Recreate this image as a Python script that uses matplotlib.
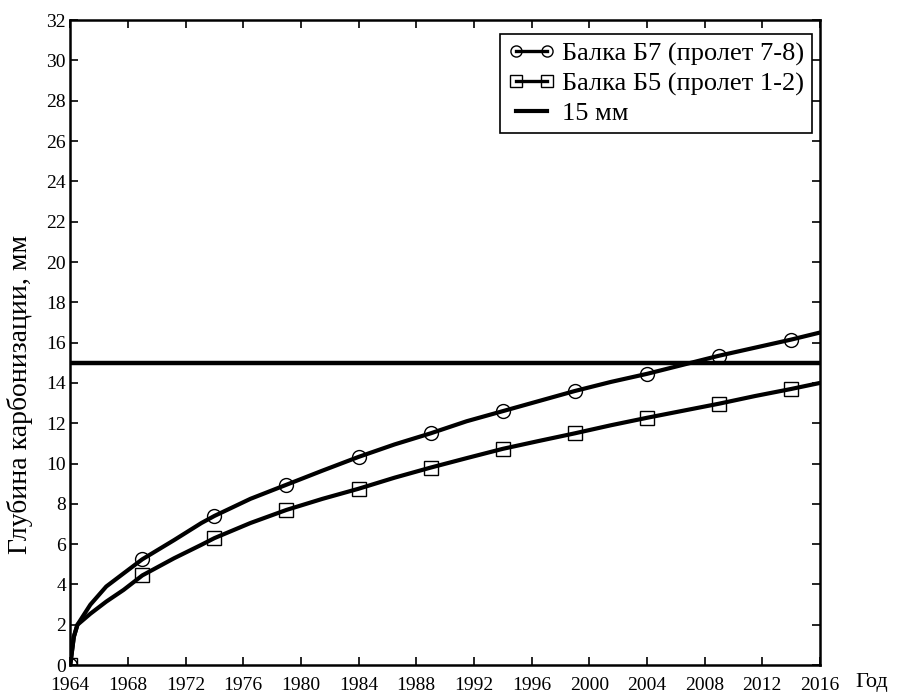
import numpy as np
import matplotlib.pyplot as plt
from matplotlib.lines import Line2D

plt.rcParams['font.family'] = ['Liberation Serif', 'DejaVu Serif']

# Curve points
years = [1964, 1964.25, 1964.5, 1965.4, 1966.5, 1967.7, 1969, 1971.2, 1973.1, 1974,
         1976.5, 1979, 1981.5, 1984, 1986.5, 1989, 1991.5, 1994, 1996.5, 1999,
         2001.5, 2004, 2006.5, 2009, 2011.5, 2014, 2016]
b7 = [0.0, 1.4, 2.0, 3.0, 3.9, 4.55, 5.25, 6.2, 7.05, 7.4,
      8.25, 8.95, 9.65, 10.33, 10.95, 11.5, 12.1, 12.6, 13.1, 13.6,
      14.05, 14.45, 14.9, 15.35, 15.75, 16.15, 16.5]
b5 = [0.0, 1.4, 2.0, 2.55, 3.15, 3.73, 4.45, 5.3, 5.97, 6.3,
      7.05, 7.7, 8.25, 8.75, 9.3, 9.8, 10.27, 10.73, 11.12, 11.5,
      11.9, 12.27, 12.62, 12.97, 13.35, 13.7, 14.0]

# Marker positions
mark_years = [1964, 1969, 1974, 1979, 1984, 1989, 1994, 1999, 2004, 2009, 2014]
b7_marks = [0.0, 5.27, 7.4, 8.95, 10.33, 11.5, 12.6, 13.6, 14.45, 15.35, 16.15]
b5_marks = [0.0, 4.47, 6.3, 7.7, 8.75, 9.8, 10.73, 11.5, 12.27, 12.97, 13.7]

limit = 15

fig = plt.figure(figsize=(9, 6.95), dpi=100)
ax = fig.add_axes([0.078, 0.043, 0.833, 0.928])

ax.plot(years, b7, color='black', lw=3)
ax.plot(years, b5, color='black', lw=3)
ax.plot(mark_years, b7_marks, ls='none', marker='o', ms=10, mfc='none', mec='black', mew=1.0)
ax.plot(mark_years, b5_marks, ls='none', marker='s', ms=10, mfc='none', mec='black', mew=1.0)
ax.axhline(limit, color='black', lw=3.2)

ax.set_xlim(1964, 2016)
ax.set_ylim(0, 32)
ax.set_xticks(np.arange(1964, 2017, 4))
ax.set_yticks(np.arange(0, 33, 2))
ax.tick_params(direction='in', top=True, right=True, length=6, width=1.2, labelsize=14, pad=3)
ax.tick_params(axis='x', pad=8.5)
for s in ax.spines.values():
    s.set_linewidth(1.8)

ax.set_ylabel('Глубина карбонизации, мм', fontsize=20)
ax.yaxis.set_label_coords(-0.05, 0.42)
ax.text(1.047, -0.027, 'Год', transform=ax.transAxes, fontsize=16, va='center', ha='left')

legend_elements = [
    Line2D([0], [0], color='black', lw=2.4, marker='o', ms=8, mfc='none', mew=1.0, label='Балка Б7 (пролет 7-8)'),
    Line2D([0], [0], color='black', lw=2.4, marker='s', ms=8, mfc='none', mew=1.0, label='Балка Б5 (пролет 1-2)'),
    Line2D([0], [0], color='black', lw=3, label='15 мм'),
]
leg = ax.legend(handles=legend_elements, loc='upper right', numpoints=2, fontsize=19,
                fancybox=False, framealpha=1, edgecolor='black', handlelength=1.75,
                handletextpad=0.3, borderpad=0.3, labelspacing=0.22, borderaxespad=0,
                bbox_to_anchor=(0.99, 0.978))
leg.get_frame().set_linewidth(1.2)

fig.savefig('out.png', dpi=100)
